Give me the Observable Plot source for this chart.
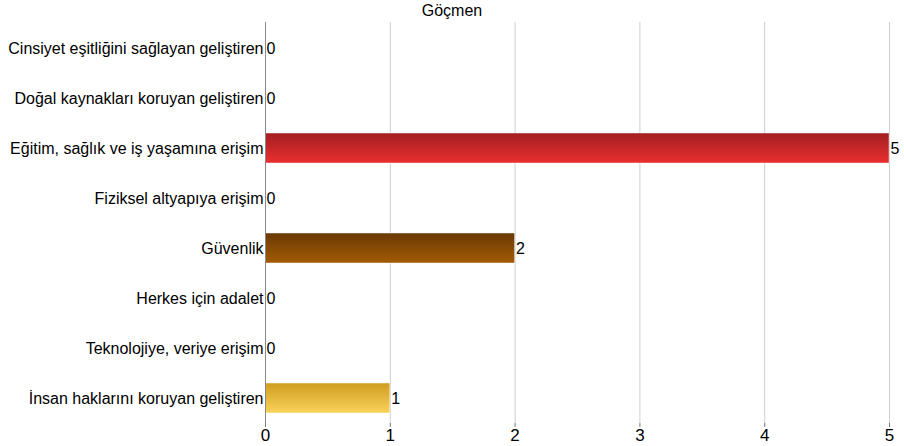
<!DOCTYPE html>
<html>
<head>
<meta charset="utf-8">
<script src="https://cdn.jsdelivr.net/npm/d3@7"></script>
<script src="https://cdn.jsdelivr.net/npm/@observablehq/plot@0.6"></script>
<style>
  body { margin: 0; background: #fff; }
  #wrap { position: relative; width: 904px; height: 446px; font-family: "Liberation Sans", Arial, sans-serif; }
  #title { position: absolute; left: 0; top: 2px; width: 904px; text-align: center; font-size: 16px; line-height: 18px; color: #000; }
</style>
</head>
<body>
<div id="wrap"><div id="title"></div></div>
<script>
const title = "Göçmen";
const categories = [
  "Cinsiyet eşitliğini sağlayan geliştiren",
  "Doğal kaynakları koruyan geliştiren",
  "Eğitim, sağlık ve iş yaşamına erişim",
  "Fiziksel altyapıya erişim",
  "Güvenlik",
  "Herkes için adalet",
  "Teknolojiye, veriye erişim",
  "İnsan haklarını koruyan geliştiren"
];
const values = [0, 0, 5, 0, 2, 0, 0, 1];
const gradTop = [null, null, "#a31f22", null, "#6a3905", null, null, "#cf9d20"];
const gradBottom = [null, null, "#ea2f2f", null, "#a35b04", null, null, "#fad25a"];
const xTicks = [0, 1, 2, 3, 4, 5];

const data = categories.map((c, i) => ({cat: c, value: values[i], i}));

document.getElementById("title").textContent = title;

const defs = () => {
  const g = d3.create("svg:defs");
  data.forEach(d => {
    if (!gradTop[d.i]) return;
    const lg = g.append("linearGradient").attr("id", "grad" + d.i)
      .attr("x1", 0).attr("y1", 0).attr("x2", 0).attr("y2", 1);
    lg.append("stop").attr("offset", "0%").attr("stop-color", gradTop[d.i]);
    lg.append("stop").attr("offset", "100%").attr("stop-color", gradBottom[d.i]);
  });
  return g.node();
};

const chart = Plot.plot({
  width: 904,
  height: 446,
  marginTop: 22,
  marginBottom: 23,
  marginLeft: 265,
  marginRight: 15,
  style: {fontFamily: "'Liberation Sans', Arial, sans-serif", fontSize: "16px", color: "#000", background: "transparent"},
  x: {domain: [0, 5], ticks: xTicks, tickFormat: "d"},
  y: {domain: categories, paddingInner: 0.4, paddingOuter: 0.2},
  color: {type: "identity"},
  marks: [
    defs,
    Plot.gridX(xTicks.filter(t => t > 0), {stroke: "#cfcfcf", strokeOpacity: 1}),
    Plot.barX(data.filter(d => d.value > 0), {
      x: "value", y: "cat",
      fill: d => `url(#grad${d.i})`,
      stroke: "#ffffff", strokeOpacity: 0.45, strokeWidth: 1
    }),
    Plot.ruleX([0], {stroke: "#8a8a8a"}),
    Plot.ruleY([0], {frameAnchor: "bottom", stroke: "#777"}),
    Plot.axisX({ticks: xTicks, tickFormat: "d", tickSize: 4, tickPadding: 1, fontSize: 17, stroke: "#777", label: null}),
    Plot.axisY({tickSize: 0, tickPadding: 2, fontSize: 16, label: null}),
    Plot.text(data, {x: "value", y: "cat", text: d => String(d.value), textAnchor: "start", dx: 1, fontSize: 16, fill: "#000"})
  ]
});
document.getElementById("wrap").appendChild(chart);
</script>
</body>
</html>
